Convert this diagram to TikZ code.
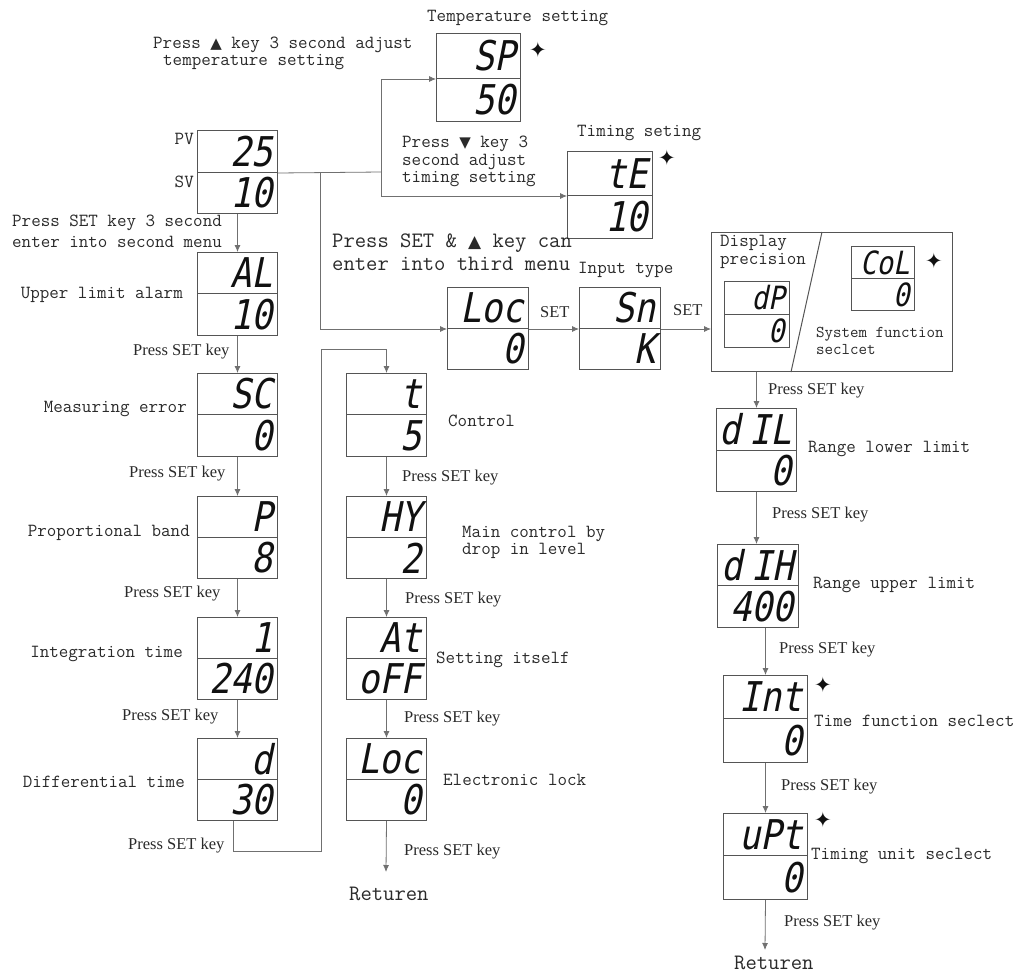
\documentclass[tikz,border=0pt]{standalone}
\usepackage{fontspec}
\usetikzlibrary{arrows.meta}
\setmainfont{Liberation Serif}
\newfontfamily\monof{Latin Modern Mono}
\newfontfamily\segf{DejaVu Sans Mono}[FakeSlant=0.2,FakeStretch=0.86]
\newfontfamily\symf{DejaVu Sans}
\definecolor{txt}{HTML}{2a2a2a}
\definecolor{boxc}{HTML}{555555}
\definecolor{linec}{HTML}{707070}
\definecolor{segc}{HTML}{111111}
\tikzset{
  half/.style={draw=boxc, line width=1pt, inner sep=0pt},
  seg/.style={font=\segf\fontsize{41}{41}\selectfont, text=segc, inner sep=0pt},
  segsm/.style={font=\segf\fontsize{32}{32}\selectfont, text=segc, inner sep=0pt},
  lbl/.style={font=\monof\fontsize{18.5}{20}\selectfont, text=txt, inner sep=0pt},
  lblsm/.style={font=\monof\fontsize{16.5}{18}\selectfont, text=txt, inner sep=0pt},
  biglbl/.style={font=\monof\fontsize{22}{24}\selectfont, text=txt, inner sep=0pt},
  keylbl/.style={font=\fontsize{16.5}{18}\selectfont, text=txt, inner sep=0pt},
  con/.style={draw=linec, line width=0.8pt},
  arr/.style={con, -{Latex[length=7pt,width=6pt]}},
  starmark/.style={font=\symf\fontsize{21}{21}\selectfont, text=segc, inner sep=0pt}
}
% name, x1, x2, ytop, ymid, ybot, top text, bottom text, text style
\newcommand\disp[9]{%
  \pgfmathsetmacro\dw{#3-#2}%
  \pgfmathsetmacro\dht{#5-#4}%
  \pgfmathsetmacro\dhb{#6-#5}%
  \node[half, minimum width=\dw pt, minimum height=\dht pt, anchor=north west] (#1t) at (#2,#4) {};%
  \node[half, minimum width=\dw pt, minimum height=\dhb pt, anchor=north west] (#1b) at (#2,#5) {};%
  \node[#9, anchor=east] (#1tx) at ([xshift=-5pt]#1t.east) {#7};%
  \node[#9, anchor=east] (#1bx) at ([xshift=-5pt]#1b.east) {#8};%
}
\begin{document}
\begin{tikzpicture}[x=1pt,y=-1pt]
\fill[white] (0,0) rectangle (1036,977);
\useasboundingbox (0,0) rectangle (1036,977);

% ---------- top: temperature / timing setting ----------
\node[lbl, anchor=west] (ttemp) at (427,18) {Temperature setting};
\node[lbl, anchor=west] (tup1) at (153,45) {Press {\symf\fontsize{15}{15}\selectfont ▲} key 3 second adjust};
\node[lbl, anchor=west] (tup2) at (163,62) {temperature setting};
\disp{sp}{436}{520}{33}{78}{121}{SP}{50}{seg}
\node[starmark] (spstar) at (538,50) {✦};

\node[lbl, anchor=west] (ttim) at (577,133) {Timing seting};
\node[lbl, anchor=west] (tdn1) at (402,144) {Press {\symf\fontsize{15}{15}\selectfont ▼} key 3};
\node[lbl, anchor=west] (tdn2) at (402,162) {second adjust};
\node[lbl, anchor=west] (tdn3) at (402,179) {timing setting};
\disp{te}{567}{652}{151}{195}{238}{tE}{10}{seg}
\node[starmark] (testar) at (667,158) {✦};

% ---------- left column ----------
\disp{pv}{197}{277}{130}{172}{213}{25}{10}{seg}
\node[lbl, anchor=east] (pvl) at (194,139) {PV};
\node[lbl, anchor=east] (svl) at (194,182) {SV};
\node[lbl, anchor=west] (m2a) at (12,223) {Press SET key 3 second};
\node[lbl, anchor=west] (m2b) at (12,242) {enter into second menu};

\disp{al}{197}{277}{252}{293}{335}{AL}{10}{seg}
\node[lbl, anchor=east] (all) at (183,295) {Upper limit alarm};
\node[keylbl, anchor=west] (k1) at (133,352) {Press SET key};

\disp{sc}{197}{277}{373}{414}{456}{SC}{0}{seg}
\node[lbl, anchor=east] (scl) at (187,409) {Measuring error};
\node[keylbl, anchor=west] (k2) at (129,474) {Press SET key};

\disp{p}{197}{277}{496}{537}{578}{P}{8}{seg}
\node[lbl, anchor=east] (pl) at (190,533) {Proportional band};
\node[keylbl, anchor=west] (k3) at (124,594) {Press SET key};

\disp{it}{197}{277}{617}{658}{699}{1}{240}{seg}
\node[lbl, anchor=east] (itl) at (183,654) {Integration time};
\node[keylbl, anchor=west] (k4) at (122,717) {Press SET key};

\disp{d}{197}{277}{738}{779}{820}{d}{30}{seg}
\node[lbl, anchor=east] (dl) at (185,782) {Differential time};
\node[keylbl, anchor=west] (k5) at (128,846) {Press SET key};

% ---------- middle column ----------
\node[biglbl, anchor=west] (m3a) at (332,243) {Press SET \& {\symf\fontsize{17}{17}\selectfont ▲} key can};
\node[biglbl, anchor=west] (m3b) at (332,264) {enter into third menu};

\disp{t}{346}{426}{373}{414}{456}{t}{5}{seg}
\node[lbl, anchor=west] (tl) at (448,421) {Control};
\node[keylbl, anchor=west] (k6) at (402,478) {Press SET key};

\disp{hy}{346}{426}{496}{537}{578}{HY}{2}{seg}
\node[lbl, anchor=west] (hyl1) at (462,534) {Main control by};
\node[lbl, anchor=west] (hyl2) at (462,551) {drop in level};
\node[keylbl, anchor=west] (k7) at (405,600) {Press SET key};

\disp{at}{346}{426}{617}{658}{699}{At}{oFF}{seg}
\node[lbl, anchor=west] (atl) at (436,660) {Setting itself};
\node[keylbl, anchor=west] (k8) at (404,719) {Press SET key};

\disp{lk}{346}{426}{738}{779}{820}{Loc}{0}{seg}
\node[lbl, anchor=west] (lkl) at (443,780) {Electronic lock};
\node[keylbl, anchor=west] (k9) at (404,852) {Press SET key};
\node[biglbl, anchor=west] (ret1) at (349,894) {Returen};
\coordinate (r1) at (386,872);

% ---------- third menu row ----------
\disp{loc}{447}{528}{287}{328}{369}{Loc}{0}{seg}
\node[keylbl, anchor=west] (set1) at (540,312) {SET};
\node[lbl, anchor=west] (inl) at (578,270) {Input type};
\disp{sn}{579}{660}{287}{328}{369}{Sn}{K}{seg}
\node[keylbl, anchor=west] (set2) at (673,310) {SET};

\node[half, minimum width=241pt, minimum height=139pt, anchor=north west] (bigbox) at (711,232) {};
\draw[half] ([xshift=111pt]bigbox.north west) -- ([xshift=80pt]bigbox.south west);
\node[lbl, anchor=west] (dpl1) at (720,243) {Display};
\node[lbl, anchor=west] (dpl2) at (720,261) {precision};
\disp{dp}{724}{789}{281}{314}{347}{dP}{0}{segsm}
\disp{col}{851}{914}{246}{278}{310}{CoL}{0}{segsm}
\node[starmark] (colstar) at (934,261) {✦};
\node[lblsm, anchor=west] (sfl1) at (816,334) {System function};
\node[lblsm, anchor=west] (sfl2) at (816,350) {seclcet};

% ---------- right column ----------
\node[keylbl, anchor=west] (k10) at (768,391) {Press SET key};
\disp{dil}{716}{796}{408}{450}{491}{d\hspace{9pt}IL}{0}{seg}
\node[lbl, anchor=west] (dill) at (808,449) {Range lower limit};
\node[keylbl, anchor=west] (k11) at (772,515) {Press SET key};
\disp{dih}{717}{798}{544}{585}{627}{d\hspace{9pt}IH}{400}{seg}
\node[lbl, anchor=west] (dihl) at (813,585) {Range upper limit};
\node[keylbl, anchor=west] (k12) at (779,650) {Press SET key};
\disp{int}{723}{807}{675}{718}{762}{Int}{0}{seg}
\node[starmark] (intstar) at (823,685) {✦};
\node[lbl, anchor=west] (intl) at (814,721) {Time function seclect};
\node[keylbl, anchor=west] (k13) at (781,787) {Press SET key};
\disp{upt}{723}{807}{813}{855}{899}{uPt}{0}{seg}
\node[starmark] (uptstar) at (823,820) {✦};
\node[lbl, anchor=west] (uptl) at (811,856) {Timing unit seclect};
\node[keylbl, anchor=west] (k14) at (784,923) {Press SET key};
\node[biglbl, anchor=west] (ret2) at (734,963) {Returen};
\coordinate (r2) at (765,950);

% ---------- connectors ----------
\coordinate (j1) at (320,172);
\coordinate (j2) at (381,172);
\draw[con] (pvt.south east) -- (j2);
\draw[arr] (j2) |- (spt.south west);
\draw[arr] (j2) |- (tet.south west);
\draw[arr] (j1) |- (loct.south west);
\draw[arr] (loct.south east) -- (snt.south west);
\draw[arr] (snt.south east) -- (snt.south east -| bigbox.west);

\draw[arr] (pvb.south) -- (alt.north);
\draw[arr] (alb.south) -- (sct.north);
\draw[arr] (scb.south) -- (pt.north);
\draw[arr] (pb.south) -- (itt.north);
\draw[arr] (itb.south) -- (dt.north);
\coordinate (b1) at (233,851);
\coordinate (b2) at (321,349);
\draw[arr] (db.south -| b1) -- (b1) -| (b2) -| (tt.north);

\draw[arr] (tb.south) -- (hyt.north);
\draw[arr] (hyb.south) -- (att.north);
\draw[arr] (atb.south) -- (lkt.north);
\draw[arr] (lkb.south) -- (r1);

\draw[arr] (dilt.north |- bigbox.south) -- (dilt.north);
\draw[arr] (dilb.south) -- (dilb.south |- diht.north);
\draw[arr] (intt.north |- dihb.south) -- (intt.north);
\draw[arr] (intb.south) -- (uptt.north);
\draw[arr] (uptb.south) -- (r2);
\end{tikzpicture}
\end{document}
